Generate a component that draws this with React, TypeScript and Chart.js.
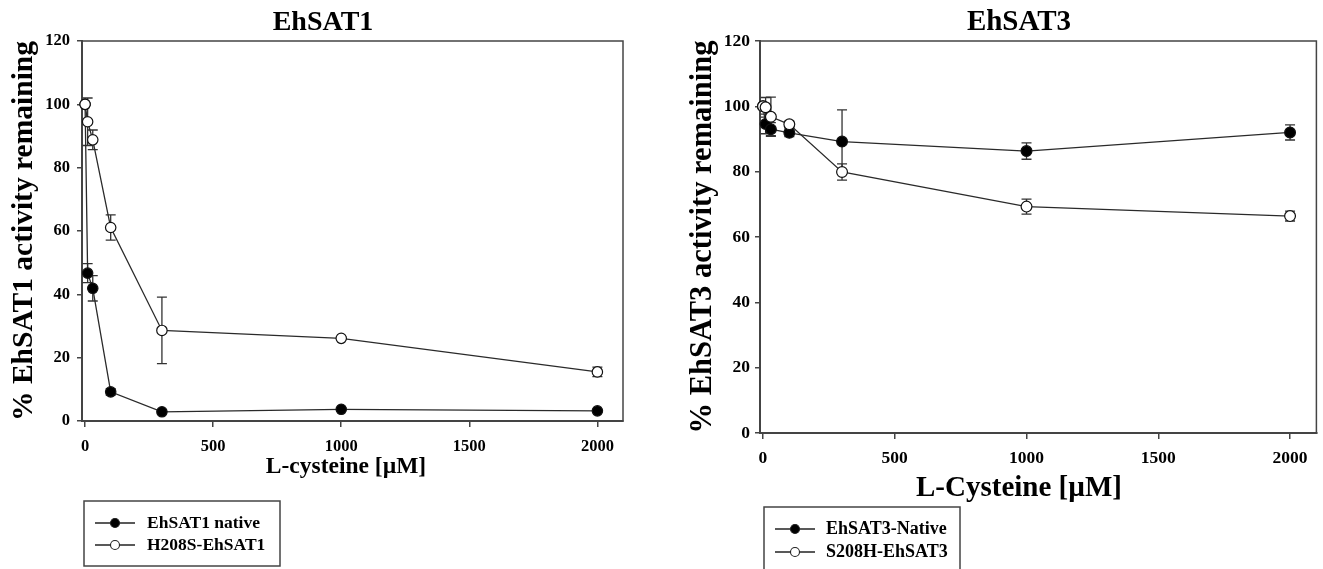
import React, { useEffect, useRef } from 'react';
import { Chart, registerables } from 'chart.js';

Chart.register(...registerables);

// ---------- data ----------
const concentrations = [0, 10, 30, 100, 300, 1000, 2000];

const sat1NativeLabel = 'EhSAT1 native';
const sat1NativeValues = [100, 46.7, 41.9, 9.2, 2.9, 3.7, 3.2];
const sat1NativeErrors = [0, 3, 4, 1, 0.6, 0.5, 0.5];

const sat1MutantLabel = 'H208S-EhSAT1';
const sat1MutantValues = [100, 94.5, 88.8, 61.1, 28.6, 26.1, 15.5];
const sat1MutantErrors = [0, 7.5, 3.1, 4, 10.5, 0.5, 1.5];

const sat3NativeLabel = 'EhSAT3-Native';
const sat3NativeValues = [100, 94.6, 93, 91.9, 89.2, 86.3, 92];
const sat3NativeErrors = [0, 3, 2, 1.2, 9.7, 2.5, 2.3];

const sat3MutantLabel = 'S208H-EhSAT3';
const sat3MutantValues = [100, 99.7, 96.8, 94.5, 79.9, 69.3, 66.4];
const sat3MutantErrors = [0, 3, 6, 1, 2.5, 2.3, 1.5];

const xTickValues = [0, 500, 1000, 1500, 2000];
const yTickValues = [0, 20, 40, 60, 80, 100, 120];

const FONT = '"Liberation Serif", "Times New Roman", Times, serif';
const CANVAS_H = 569;

// ---------- plugins ----------
const errorBarPlugin = {
  id: 'errorBars',
  beforeDatasetsDraw(chart: any, _args: any, opts: any) {
    const { ctx } = chart;
    const xs = chart.scales.x;
    const ys = chart.scales.y;
    const cap = opts.cap || 5;
    ctx.save();
    ctx.strokeStyle = '#333';
    ctx.lineWidth = 1.3;
    chart.data.datasets.forEach((ds: any) => {
      const errs = ds.errors as number[];
      if (!errs) return;
      ds.data.forEach((p: any, i: number) => {
        const e = errs[i];
        if (!e) return;
        const x = xs.getPixelForValue(p.x);
        const y1 = ys.getPixelForValue(p.y + e);
        const y2 = ys.getPixelForValue(p.y - e);
        ctx.beginPath();
        ctx.moveTo(x, y1);
        ctx.lineTo(x, y2);
        ctx.moveTo(x - cap, y1);
        ctx.lineTo(x + cap, y1);
        ctx.moveTo(x - cap, y2);
        ctx.lineTo(x + cap, y2);
        ctx.stroke();
      });
    });
    ctx.restore();
  },
};

const framePlugin = {
  id: 'frame',
  beforeDatasetsDraw(chart: any) {
    const { ctx, chartArea } = chart;
    ctx.save();
    ctx.strokeStyle = '#444';
    ctx.lineWidth = 1.5;
    ctx.strokeRect(chartArea.left, chartArea.top, chartArea.right - chartArea.left, chartArea.bottom - chartArea.top);
    ctx.restore();
  },
};

const textPlugin = {
  id: 'texts',
  afterDraw(chart: any, _args: any, opts: any) {
    const { ctx } = chart;
    ctx.save();
    ctx.fillStyle = '#000';
    ctx.textAlign = 'center';
    ctx.textBaseline = 'middle';
    (opts.items || []).forEach((t: any) => {
      ctx.font = `bold ${t.size}px ${FONT}`;
      ctx.fillText(t.text, t.x, t.y);
    });
    ctx.restore();
  },
};

const boxLegendPlugin = {
  id: 'boxLegend',
  afterDraw(chart: any, _args: any, o: any) {
    const { ctx } = chart;
    ctx.save();
    ctx.strokeStyle = '#444';
    ctx.lineWidth = 1.5;
    ctx.strokeRect(o.x, o.y, o.w, o.h);
    chart.data.datasets.forEach((ds: any, i: number) => {
      const y = o.rows[i];
      ctx.strokeStyle = '#222';
      ctx.lineWidth = 1.3;
      ctx.beginPath();
      ctx.moveTo(o.lineX1, y);
      ctx.lineTo(o.lineX2, y);
      ctx.stroke();
      ctx.beginPath();
      ctx.arc((o.lineX1 + o.lineX2) / 2, y, o.r, 0, Math.PI * 2);
      ctx.fillStyle = ds.filledMarker ? '#000' : '#fff';
      ctx.fill();
      ctx.lineWidth = 1.1;
      ctx.stroke();
      ctx.fillStyle = '#000';
      ctx.font = `bold ${o.size}px ${FONT}`;
      ctx.textAlign = 'left';
      ctx.textBaseline = 'middle';
      ctx.fillText(ds.label, o.textX, y);
    });
    ctx.restore();
  },
};

// ---------- panels ----------
interface Series { label: string; values: number[]; errors: number[]; filled: boolean; }

const panels = [
  {
    key: 'sat1',
    left: 0,
    width: 660,
    chartLeft: 82,
    chartRight: 623,
    chartTop: 41,
    chartBottom: 421,
    xAxisHeight: 56,
    xMin: -12,
    xMax: 2100,
    tickSize: 16.5,
    yTickPad: 7,
    xTickPad: 10,
    yTitle: '% EhSAT1 activity remaining',
    yTitleSize: 29.5,
    yTitlePad: 7,
    markerRadius: 5.2,
    texts: [
      { text: 'EhSAT1', x: 323, y: 23, size: 28 },
      { text: 'L-cysteine [µM]', x: 346, y: 467, size: 23.5 },
    ],
    legend: { x: 84, y: 501, w: 196, h: 65, rows: [523, 545], lineX1: 95, lineX2: 135, r: 4.5, textX: 147, size: 17.5 },
    series: [
      { label: sat1NativeLabel, values: sat1NativeValues, errors: sat1NativeErrors, filled: true },
      { label: sat1MutantLabel, values: sat1MutantValues, errors: sat1MutantErrors, filled: false },
    ] as Series[],
  },
  {
    key: 'sat3',
    left: 660,
    width: 663,
    chartLeft: 100,
    chartRight: 661,
    chartTop: 41,
    chartBottom: 433,
    xAxisHeight: 60,
    xMin: -11.3,
    xMax: 2100,
    tickSize: 17.5,
    yTickPad: 5,
    xTickPad: 8.5,
    yTitle: '% EhSAT3 activity remaining',
    yTitleSize: 30.5,
    yTitlePad: 24.5,
    markerRadius: 5.4,
    texts: [
      { text: 'EhSAT3', x: 359, y: 23, size: 29 },
      { text: 'L-Cysteine [µM]', x: 359, y: 489, size: 29 },
    ],
    legend: { x: 104, y: 507, w: 196, h: 65, rows: [529, 552], lineX1: 115, lineX2: 155, r: 4.5, textX: 166, size: 18 },
    series: [
      { label: sat3NativeLabel, values: sat3NativeValues, errors: sat3NativeErrors, filled: true },
      { label: sat3MutantLabel, values: sat3MutantValues, errors: sat3MutantErrors, filled: false },
    ] as Series[],
  },
];

function buildConfig(p: any): any {
  const tickFont = { family: FONT, weight: 'bold', size: p.tickSize };
  const datasets = p.series.map((s: Series) => ({
    label: s.label,
    data: concentrations.map((c, i) => ({ x: c, y: s.values[i] })),
    errors: s.errors,
    filledMarker: s.filled,
    borderColor: '#2a2a2a',
    borderWidth: 1.3,
    pointRadius: p.markerRadius,
    pointHoverRadius: p.markerRadius,
    pointStyle: 'circle',
    pointBackgroundColor: s.filled ? '#000' : '#fff',
    pointBorderColor: '#111',
    pointBorderWidth: 1.2,
    tension: 0,
    fill: false,
    clip: false,
    order: s.filled ? 1 : 0,
  }));
  return {
    type: 'line',
    data: { datasets },
    options: {
      animation: false,
      responsive: false,
      devicePixelRatio: 1,
      events: [],
      layout: {
        padding: {
          left: 0,
          top: p.chartTop,
          right: p.width - p.chartRight,
          bottom: CANVAS_H - p.chartBottom - p.xAxisHeight,
        },
      },
      scales: {
        x: {
          type: 'linear',
          min: p.xMin,
          max: p.xMax,
          afterBuildTicks: (s: any) => { s.ticks = xTickValues.map((v) => ({ value: v })); },
          afterFit: (s: any) => { s.height = p.xAxisHeight; },
          ticks: { font: tickFont, color: '#000', padding: p.xTickPad, maxRotation: 0, callback: (v: any) => String(v) },
          grid: { drawOnChartArea: false, drawTicks: true, tickLength: 6, color: '#444', lineWidth: 1.5 },
          border: { display: true, color: '#444', width: 2 },
        },
        y: {
          type: 'linear',
          min: 0,
          max: 120,
          afterBuildTicks: (s: any) => { s.ticks = yTickValues.map((v) => ({ value: v })); },
          afterFit: (s: any) => { s.width = p.chartLeft; },
          ticks: { font: tickFont, color: '#000', padding: p.yTickPad, callback: (v: any) => String(v) },
          grid: { drawOnChartArea: false, drawTicks: true, tickLength: 5, color: '#444', lineWidth: 1.5 },
          border: { display: true, color: '#444', width: 2 },
          title: {
            display: true,
            text: p.yTitle,
            color: '#000',
            font: { family: FONT, weight: 'bold', size: p.yTitleSize },
            padding: { top: p.yTitlePad, bottom: 0 },
          },
        },
      },
      plugins: {
        legend: { display: false },
        tooltip: { enabled: false },
        title: { display: false },
        errorBars: { cap: 5 },
        texts: { items: p.texts },
        boxLegend: p.legend,
      },
    },
    plugins: [framePlugin, errorBarPlugin, textPlugin, boxLegendPlugin],
  };
}

function Panel({ p }: { p: any }) {
  const ref = useRef<HTMLCanvasElement | null>(null);
  useEffect(() => {
    if (!ref.current) return;
    const chart = new Chart(ref.current, buildConfig(p));
    return () => chart.destroy();
  }, [p]);
  return (
    <canvas
      ref={ref}
      width={p.width}
      height={CANVAS_H}
      style={{ position: 'absolute', left: p.left, top: 0, width: p.width, height: CANVAS_H }}
    />
  );
}

export default function App() {
  return (
    <div style={{ position: 'absolute', left: 0, top: 0, width: 1323, height: CANVAS_H, background: '#fff', overflow: 'hidden' }}>
      {panels.map((p) => (
        <Panel key={p.key} p={p} />
      ))}
    </div>
  );
}
